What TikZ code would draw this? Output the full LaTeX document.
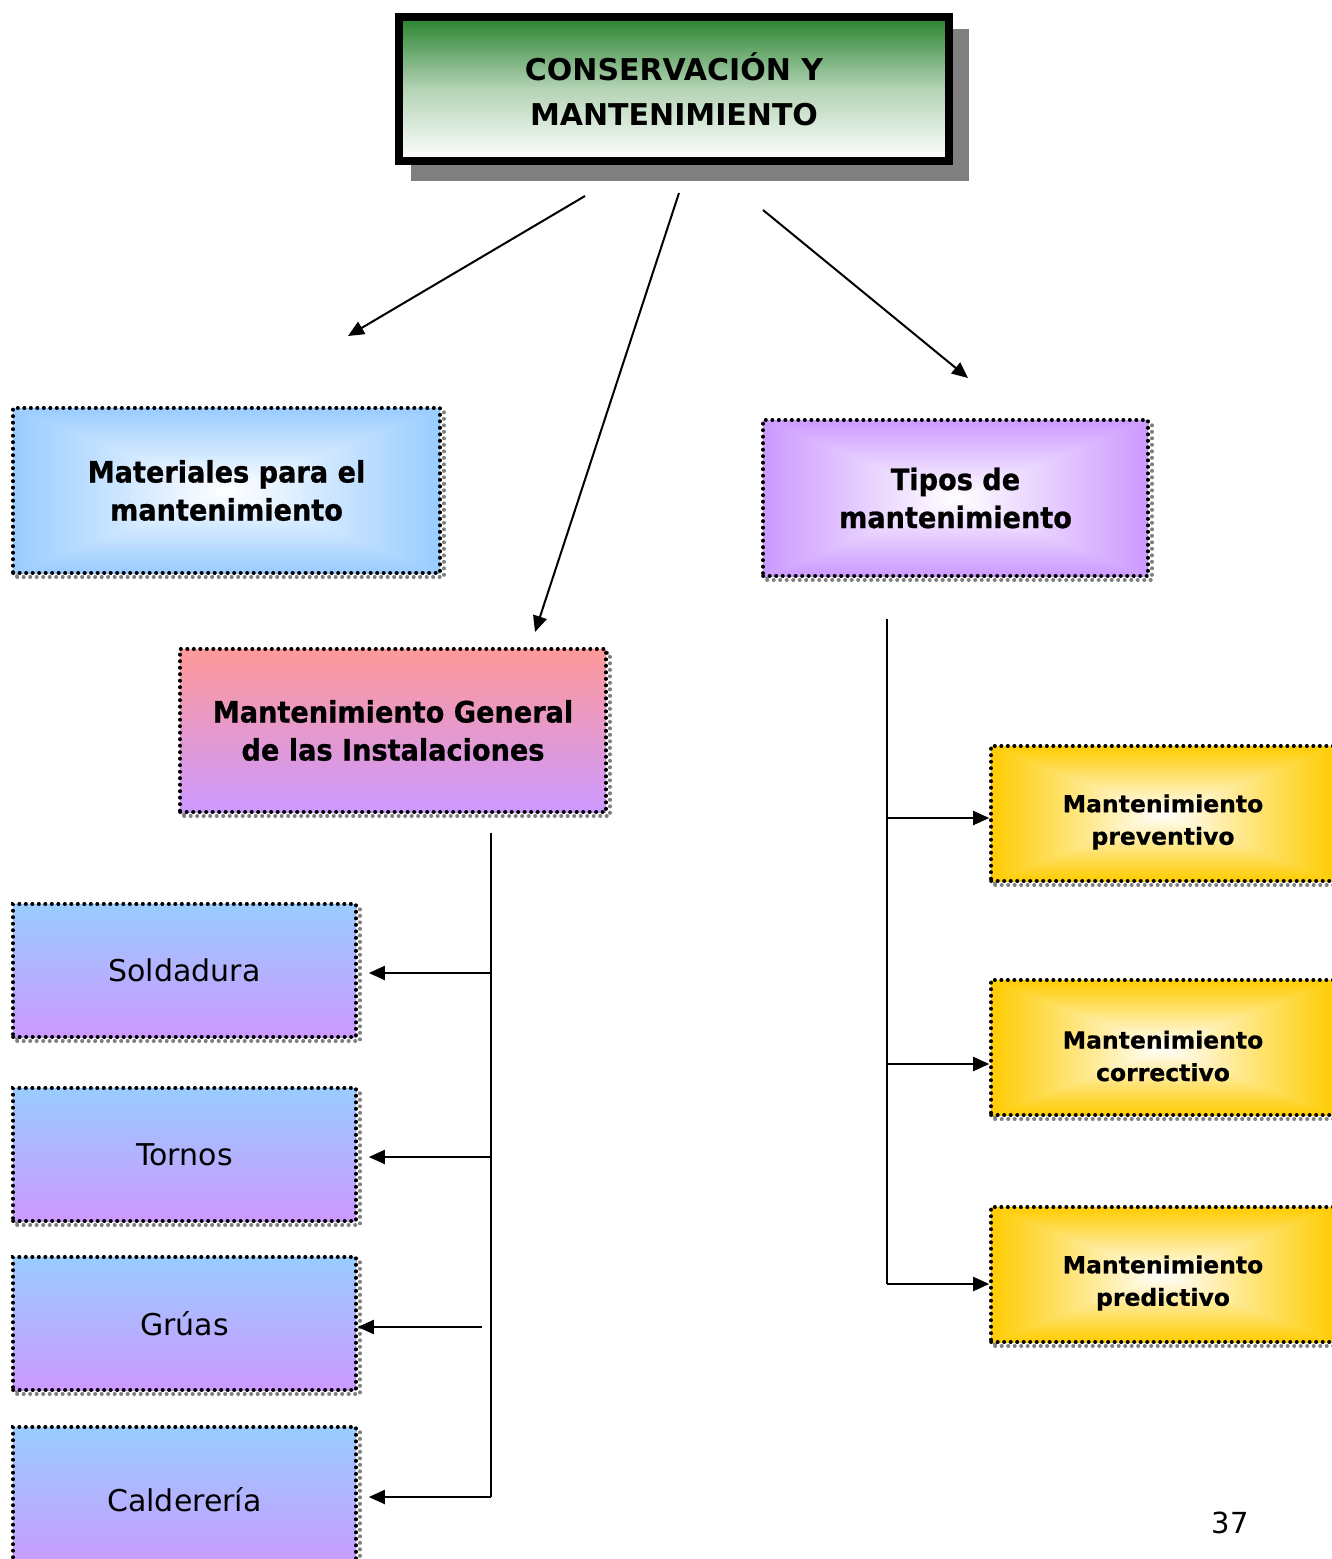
\documentclass[tikz,border=0pt]{standalone}
\usepackage{fontspec}
\setmainfont{DejaVu Sans}
\newfontfamily\boxfont{DejaVu Sans}[FakeStretch=0.92, BoldFeatures={FakeBold=0.8}]
\newfontfamily\yfont{DejaVu Sans}[BoldFeatures={FakeBold=0.6}]
\usetikzlibrary{arrows.meta}
\definecolor{lblue}{RGB}{153,204,255}
\definecolor{lpurp}{RGB}{204,153,255}
\definecolor{salmon}{RGB}{255,153,153}
\definecolor{gold}{RGB}{255,204,0}
\definecolor{tgreen}{RGB}{40,130,45}
\definecolor{shgray}{RGB}{128,128,128}
\begin{document}
\begin{tikzpicture}[x=1pt,y=-1pt,
  dotline/.style={line width=3.6pt, dash pattern=on 0.4pt off 6.1pt, line cap=round},
  dotbox/.style={draw=black, dotline, rectangle, inner sep=0pt, align=center,
    preaction={draw=shgray, dotline, transform canvas={shift={(4pt,-4pt)}}}},
  censhade/.style={path picture={
    \shade[left color=#1, right color=#1, middle color=white]
      (path picture bounding box.south west) rectangle (path picture bounding box.north east);
    \shade[top color=#1, bottom color=#1, middle color=white, blend mode=darken]
      (path picture bounding box.south west) rectangle (path picture bounding box.north east);}},
  vshade/.style 2 args={path picture={
    \shade[top color=#1, bottom color=#2]
      (path picture bounding box.south west) rectangle (path picture bounding box.north east);}},
  bigb/.style={font=\boxfont\fontsize{29.5}{38}\selectfont\bfseries},
  yb/.style={font=\yfont\fontsize{23.5}{32.5}\selectfont\bfseries},
  reg/.style={font=\fontsize{30}{35}\selectfont},
  ttl/.style={font=\fontsize{30}{45}\selectfont\bfseries},
  arr/.style={line width=2pt, -{Triangle[length=16pt,width=14pt]}},
  ln/.style={line width=2pt}
]
\useasboundingbox (0,0) rectangle (1332,1559);
\clip (0,0) rectangle (1332,1559);

% title
\node[rectangle, draw=black, line width=8pt, minimum width=550pt, minimum height=144pt,
  inner sep=0pt, align=center, ttl,
  preaction={fill=shgray, draw=shgray, line width=8pt, transform canvas={shift={(16pt,-16pt)}}},
  path picture={
    \shade[top color=tgreen, bottom color=white, middle color=tgreen!35!white]
      (path picture bounding box.south west) rectangle (path picture bounding box.north east);}]
  (title) at (674,89) {CONSERVACIÓN Y\\MANTENIMIENTO};

% level 1
\node[dotbox, censhade=lblue, minimum width=427pt, minimum height=165pt, bigb]
  (mat) at (226.5,490.5) {Materiales para el\\mantenimiento};
\node[dotbox, censhade=lpurp, minimum width=385pt, minimum height=156pt, bigb]
  (tipos) at (955.5,498) {Tipos de\\mantenimiento};
\node[dotbox, vshade={salmon}{lpurp}, minimum width=426pt, minimum height=163pt, bigb]
  (mg) at (393,730.5) {Mantenimiento General\\de las Instalaciones};

% left column
\node[dotbox, vshade={lblue}{lpurp}, minimum width=343pt, minimum height=133pt, reg]
  (sold) at (184.5,970.5) {Soldadura};
\node[dotbox, vshade={lblue}{lpurp}, minimum width=343pt, minimum height=133pt, reg]
  (torn) at (184.5,1154.5) {Tornos};
\node[dotbox, vshade={lblue}{lpurp}, minimum width=343pt, minimum height=133pt, reg]
  (grua) at (184.5,1323.5) {Grúas};
\node[dotbox, vshade={lblue}{lpurp}, minimum width=343pt, minimum height=146pt, reg]
  (cald) at (184.5,1500) {Calderería};

% right column
\node[dotbox, censhade=gold, minimum width=344pt, minimum height=135pt]
  (prev) at (1163,813.5) {};
\node[yb, align=center] (prevt) at (1163,822) {Mantenimiento\\preventivo};
\node[dotbox, censhade=gold, minimum width=344pt, minimum height=135pt]
  (corr) at (1163,1047.5) {};
\node[yb, align=center] (corrt) at (1163,1056) {Mantenimiento\\correctivo};
\node[dotbox, censhade=gold, minimum width=344pt, minimum height=135pt]
  (pred) at (1163,1274.5) {};
\node[yb, align=center] (predt) at (1163,1283) {Mantenimiento\\predictivo};

% page number
\node[font=\fontsize{29}{35}\selectfont] (pnum) at (1230,1523) {37};

% arrows from title
\coordinate (s1) at (585,196); \coordinate (e1) at (348,336);
\coordinate (s2) at (679,193); \coordinate (e2) at (535,632);
\coordinate (s3) at (763,210); \coordinate (e3) at (968,378);
\draw[arr] (s1) -- (e1);
\draw[arr] (s2) -- (e2);
\draw[arr] (s3) -- (e3);

% left tree
\coordinate (lt) at (491,833);
\coordinate (lb) at (491,1497);
\coordinate (gs) at (482,1327);
\draw[ln] (lt) -- (lb);
\draw[arr] (491,973) -- ([xshift=11pt]sold.east |- 0,973);
\draw[arr] (491,1157) -- ([xshift=11pt]torn.east |- 0,1157);
\draw[arr] (gs) -- (grua.east |- gs);
\draw[arr] (lb) -- ([xshift=11pt]cald.east |- lb);

% right tree
\coordinate (rt) at (887,619);
\coordinate (rb) at (887,1284);
\draw[ln] (rt) -- (rb);
\draw[arr] (887,818) -- (prev.west |- 0,818);
\draw[arr] (887,1064) -- (corr.west |- 0,1064);
\draw[arr] (rb) -- (pred.west |- rb);
\end{tikzpicture}
\end{document}
